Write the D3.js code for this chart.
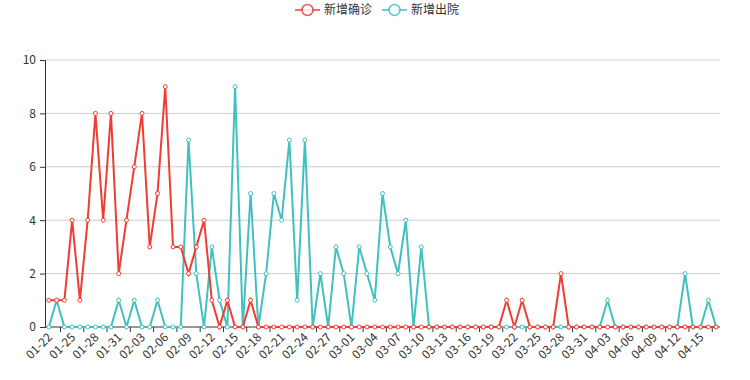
<!DOCTYPE html>
<html>
<head>
<meta charset="utf-8">
<script src="https://cdn.jsdelivr.net/npm/d3@7/dist/d3.min.js"></script>
<style>
  body { margin: 0; background: #fff; }
  text { font-family: "Noto Sans CJK SC", "Noto Sans", sans-serif; }
</style>
</head>
<body>
<div id="chart"></div>
<script>
// series names
var seriesNames = ["新增确诊", "新增出院"];

// dates 01-22 .. 04-17
var dates = ["01-22","01-23","01-24","01-25","01-26","01-27","01-28","01-29","01-30","01-31",
  "02-01","02-02","02-03","02-04","02-05","02-06","02-07","02-08","02-09","02-10",
  "02-11","02-12","02-13","02-14","02-15","02-16","02-17","02-18","02-19","02-20",
  "02-21","02-22","02-23","02-24","02-25","02-26","02-27","02-28","02-29","03-01",
  "03-02","03-03","03-04","03-05","03-06","03-07","03-08","03-09","03-10","03-11",
  "03-12","03-13","03-14","03-15","03-16","03-17","03-18","03-19","03-20","03-21",
  "03-22","03-23","03-24","03-25","03-26","03-27","03-28","03-29","03-30","03-31",
  "04-01","04-02","04-03","04-04","04-05","04-06","04-07","04-08","04-09","04-10",
  "04-11","04-12","04-13","04-14","04-15","04-16","04-17"];

var confirmed = [1,1,1,4,1,4,8,4,8,2,
  4,6,8,3,5,9,3,3,2,3,
  4,1,0,1,0,0,1,0,0,0,
  0,0,0,0,0,0,0,0,0,0,
  0,0,0,0,0,0,0,0,0,0,
  0,0,0,0,0,0,0,0,0,1,
  0,1,0,0,0,0,2,0,0,0,
  0,0,0,0,0,0,0,0,0,0,
  0,0,0,0,0,0,0];

var discharged = [0,1,0,0,0,0,0,0,0,1,
  0,1,0,0,1,0,0,0,7,2,
  0,3,1,0,9,0,5,0,2,5,
  4,7,1,7,0,2,0,3,2,0,
  3,2,1,5,3,2,4,0,3,0,
  0,0,0,0,0,0,0,0,0,0,
  0,0,0,0,0,0,0,0,0,0,
  0,0,1,0,0,0,0,0,0,0,
  0,0,2,0,0,1,0];

var yTicks = [0, 2, 4, 6, 8, 10];
var colors = ["#f03c32", "#41c0c0"];

var width = 750, height = 380;
var margin = {top: 60, right: 30, bottom: 53, left: 45};
var innerW = width - margin.left - margin.right,
    innerH = height - margin.top - margin.bottom;

var svg = d3.select("#chart")
  .append("svg")
    .attr("width", width)
    .attr("height", height);

var g = svg.append("g")
  .attr("transform", "translate(" + margin.left + "," + margin.top + ")");

// scales
var x = d3.scaleBand()
  .domain(dates)
  .range([0, innerW]);

var y = d3.scaleLinear()
  .domain([0, 10])
  .range([innerH, 0]);

// grid
g.append("g")
  .selectAll("line")
  .data(yTicks.slice(1))
  .enter()
  .append("line")
    .attr("x1", 0)
    .attr("x2", innerW)
    .attr("y1", function(d) { return y(d); })
    .attr("y2", function(d) { return y(d); })
    .style("stroke", "#ccc")
    .style("stroke-width", 1);

// Y axis
var yAxis = g.append("g")
  .call(d3.axisLeft(y).tickValues(yTicks).tickSize(5).tickPadding(4));
yAxis.select(".domain").style("stroke", "#333");
yAxis.selectAll(".tick line").style("stroke", "#333");
yAxis.selectAll(".tick text")
  .style("fill", "#333")
  .style("font-size", "12px");

// X axis: ticks on band boundaries, labels every 3rd day
var xAxisG = g.append("g")
  .attr("transform", "translate(0," + innerH + ")");
xAxisG.append("line")
  .attr("x1", 0).attr("x2", innerW)
  .style("stroke", "#333");
var labelDates = dates.filter(function(d, i) { return i % 3 === 0; });
xAxisG.selectAll(".xtick")
  .data(labelDates)
  .enter()
  .append("line")
    .attr("class", "xtick")
    .attr("x1", function(d) { return x(d) + 2 * x.bandwidth(); })
    .attr("x2", function(d) { return x(d) + 2 * x.bandwidth(); })
    .attr("y1", 0)
    .attr("y2", 5)
    .style("stroke", "#333");
xAxisG.selectAll(".xlabel")
  .data(labelDates)
  .enter()
  .append("text")
    .attr("class", "xlabel")
    .attr("transform", function(d) {
      return "translate(" + (x(d) + x.bandwidth() / 2 + 1) + ",8) rotate(-45)";
    })
    .attr("text-anchor", "end")
    .attr("dy", "0.35em")
    .style("fill", "#333")
    .style("font-size", "12px")
    .text(function(d) { return d; });

// lines (discharged drawn first, confirmed on top)
var seriesData = [confirmed, discharged];
var line = d3.line()
  .x(function(d, i) { return x(dates[i]) + x.bandwidth() / 2; })
  .y(function(d) { return y(d); });

[1, 0].forEach(function(k) {
  g.append("path")
    .datum(seriesData[k])
    .attr("d", line)
    .style("fill", "none")
    .style("stroke", colors[k])
    .style("stroke-width", 2);
  g.append("g")
    .selectAll("circle")
    .data(seriesData[k])
    .enter()
    .append("circle")
      .attr("cx", function(d, i) { return x(dates[i]) + x.bandwidth() / 2; })
      .attr("cy", function(d) { return y(d); })
      .attr("r", 2)
      .style("fill", "#fff")
      .style("stroke", colors[k])
      .style("stroke-width", 1);
});

// legend
var legend = svg.append("g");
var legendX = [295, 382];
seriesNames.forEach(function(name, k) {
  var lg = legend.append("g")
    .attr("transform", "translate(" + legendX[k] + ",10)");
  lg.append("line")
    .attr("x1", 0).attr("x2", 25)
    .style("stroke", colors[k])
    .style("stroke-width", 2)
    .style("opacity", 0.75);
  lg.append("circle")
    .attr("cx", 12.5).attr("cy", 0).attr("r", 5.5)
    .style("fill", "#fff")
    .style("stroke", colors[k])
    .style("stroke-width", 1.5)
    .style("opacity", 0.85);
  lg.append("text")
    .attr("x", 29)
    .attr("dy", "0.35em")
    .style("fill", "#333")
    .style("font-size", "12px")
    .text(name);
});
</script>
</body>
</html>
